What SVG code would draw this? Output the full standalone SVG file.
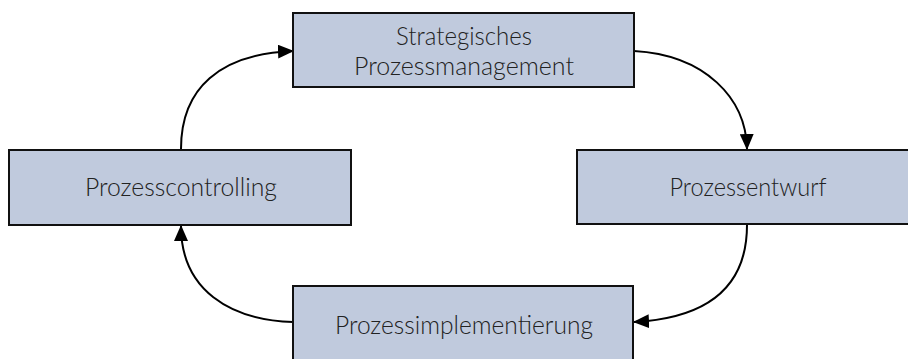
<svg xmlns="http://www.w3.org/2000/svg" width="908" height="359" viewBox="0 0 908 359">
  <defs>
    <marker id="arrow" markerUnits="userSpaceOnUse" markerWidth="16" markerHeight="14" refX="15" refY="7" orient="auto" viewBox="0 0 16 14">
      <path d="M0,0 L16,7 L0,14 Z" fill="#000"/>
    </marker>
    <style>
      .box { fill: #c0cadd; stroke: #111; stroke-width: 2; }
      .label { font-family: "Lato", "Open Sans", "Liberation Sans", sans-serif; font-weight: 300; font-size: 25px; fill: #222; text-anchor: middle; }
      .conn { fill: none; stroke: #000; stroke-width: 2; marker-end: url(#arrow); }
    </style>
  </defs>

  <g id="connectors">
    <path class="conn" d="M181,149 C181,88 220,54 293,51"/>
    <path class="conn" d="M634,51 C705,55 746,98 747,149"/>
    <path class="conn" d="M747,225 C747,285 710,318 634,322"/>
    <path class="conn" d="M293,322 C230,320 181,290 181,226"/>
  </g>

  <g id="node-strategisches">
    <rect class="box" x="293" y="13" width="341" height="74"/>
    <text class="label" x="464" y="45" textLength="136" lengthAdjust="spacingAndGlyphs">Strategisches</text>
    <text class="label" x="464" y="75" textLength="220" lengthAdjust="spacingAndGlyphs">Prozessmanagement</text>
  </g>

  <g id="node-prozessentwurf">
    <rect class="box" x="577" y="150" width="340" height="74"/>
    <text class="label" x="748" y="196" textLength="157" lengthAdjust="spacingAndGlyphs">Prozessentwurf</text>
  </g>

  <g id="node-prozesscontrolling">
    <rect class="box" x="9" y="150" width="342" height="75"/>
    <text class="label" x="181" y="196" textLength="192" lengthAdjust="spacingAndGlyphs">Prozesscontrolling</text>
  </g>

  <g id="node-prozessimplementierung">
    <rect class="box" x="293" y="286" width="340" height="90"/>
    <text class="label" x="464" y="334" textLength="258" lengthAdjust="spacingAndGlyphs">Prozessimplementierung</text>
  </g>
</svg>
